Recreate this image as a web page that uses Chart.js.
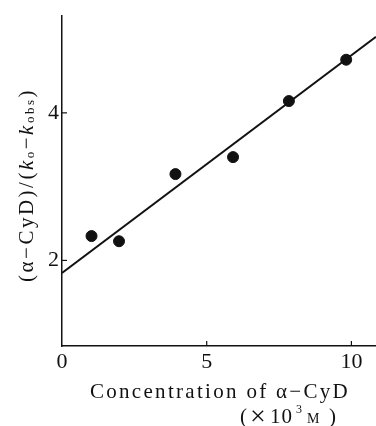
<!DOCTYPE html>
<html>
<head>
<meta charset="utf-8">
<script src="https://cdn.jsdelivr.net/npm/chart.js@4/dist/chart.umd.min.js"></script>
<style>
  html, body { margin: 0; padding: 0; background: #fff; }
  #wrap { width: 376px; height: 426px; }
</style>
</head>
<body>
<div id="wrap"><canvas id="mychart" width="376" height="426"></canvas></div>
<script>
// measured points
var concX = [1.02, 1.97, 3.92, 5.91, 7.84, 9.82];
var ratioY = [2.33, 2.26, 3.17, 3.40, 4.16, 4.72];
// fitted straight line (end points)
var fitX = [0, 10.85];
var fitY = [1.83, 5.03];
var xTicks = [0, 5, 10];
var yTicks = [2, 4];

var serif = "'Liberation Serif', 'DejaVu Serif', serif";

var titles = {
  id: 'titles',
  afterDraw: function (chart) {
    var ctx = chart.ctx;
    var xs = chart.scales.x, ys = chart.scales.y;
    var area = chart.chartArea;
    ctx.save();
    ctx.fillStyle = '#111';
    ctx.strokeStyle = '#111';
    ctx.lineWidth = 1.2;
    // inward tick marks
    xTicks.forEach(function (v) {
      if (v === 0) return;
      var px = xs.getPixelForValue(v);
      ctx.beginPath(); ctx.moveTo(px, area.bottom); ctx.lineTo(px, area.bottom - 5); ctx.stroke();
    });
    yTicks.forEach(function (v) {
      var py = ys.getPixelForValue(v);
      ctx.beginPath(); ctx.moveTo(area.left, py); ctx.lineTo(area.left + 5, py); ctx.stroke();
    });

    // x title
    ctx.textBaseline = 'middle';
    ctx.textAlign = 'center';
    ctx.font = '21px ' + serif;
    ctx.letterSpacing = '2.3px';
    ctx.fillText('Concentration of α−CyD', 220, 392);
    // second line (×10³ M), spread out like the original typesetting
    ctx.textAlign = 'left';
    ctx.letterSpacing = '1px';
    ctx.font = '21px ' + serif;
    ctx.fillText('(', 240, 417);
    ctx.font = '28px ' + serif;
    ctx.fillText('×', 250, 418);
    ctx.font = '21px ' + serif;
    ctx.fillText('10', 270, 417);
    ctx.font = '12px ' + serif;
    ctx.fillText('3', 296, 410);
    ctx.font = '14px ' + serif;
    ctx.fillText('M', 307, 419);
    ctx.font = '21px ' + serif;
    ctx.fillText(')', 329, 417);

    // y title, rotated, with subscripts
    ctx.translate(27, 185);
    ctx.rotate(-Math.PI / 2);
    ctx.letterSpacing = '2.5px';
    var parts = [
      ['(α−CyD)/(', 21, 0, 'normal'],
      ['k', 21, 0, 'italic'],
      ['o', 13, 4, 'normal'],
      ['−', 21, 0, 'normal'],
      ['k', 21, 0, 'italic'],
      ['obs', 13, 4, 'normal'],
      [')', 21, 0, 'normal']
    ];
    var total = 0;
    parts.forEach(function (p) {
      ctx.font = p[3] + ' ' + p[1] + 'px ' + serif;
      total += ctx.measureText(p[0]).width;
    });
    var cx = -total / 2;
    ctx.textAlign = 'left';
    parts.forEach(function (p) {
      ctx.font = p[3] + ' ' + p[1] + 'px ' + serif;
      ctx.fillText(p[0], cx, p[2]);
      cx += ctx.measureText(p[0]).width;
    });
    ctx.restore();
  }
};

new Chart(document.getElementById('mychart'), {
  type: 'scatter',
  data: {
    datasets: [{
      label: 'fit',
      type: 'line',
      data: fitX.map(function (x, i) { return { x: x, y: fitY[i] }; }),
      borderColor: '#111',
      borderWidth: 2,
      pointRadius: 0,
      fill: false
    }, {
      label: 'data',
      data: concX.map(function (x, i) { return { x: x, y: ratioY[i] }; }),
      backgroundColor: '#111',
      borderColor: '#111',
      pointRadius: 5.5
    }]
  },
  options: {
    responsive: false,
    animation: false,
    layout: { autoPadding: false, padding: { top: 15, right: 0, left: 0, bottom: 0 } },
    plugins: { legend: { display: false }, tooltip: { enabled: false } },
    scales: {
      x: {
        type: 'linear',
        min: 0, max: 10.85,
        afterBuildTicks: function (s) { s.ticks = xTicks.map(function (v) { return { value: v }; }); },
        afterFit: function (s) { s.height = 80; },
        grid: { display: false, drawTicks: false },
        border: { display: true, color: '#111', width: 1.5 },
        ticks: { color: '#111', padding: 3, maxRotation: 0, font: { family: serif, size: 22 } }
      },
      y: {
        type: 'linear',
        min: 0.84, max: 5.31,
        afterBuildTicks: function (s) { s.ticks = yTicks.map(function (v) { return { value: v }; }); },
        afterFit: function (s) { s.width = 62; },
        grid: { display: false, drawTicks: false },
        border: { display: true, color: '#111', width: 1.5 },
        ticks: { color: '#111', padding: 3, font: { family: serif, size: 22 } }
      }
    }
  },
  plugins: [titles]
});
</script>
</body>
</html>
